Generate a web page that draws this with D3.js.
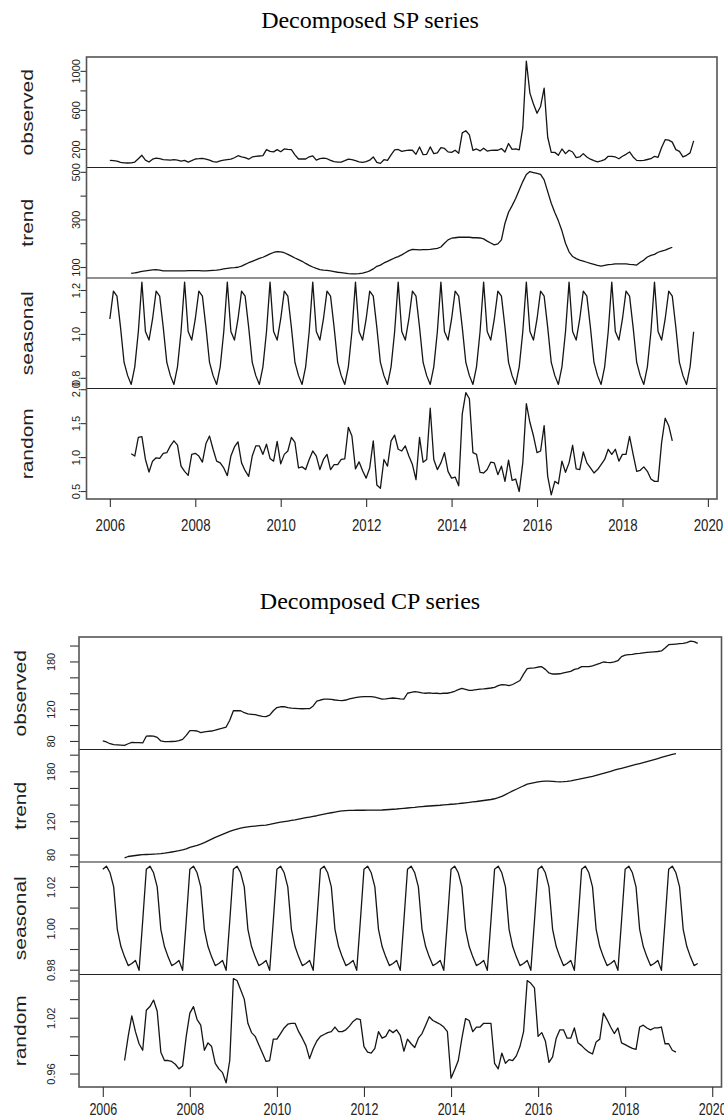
<!DOCTYPE html>
<html>
<head>
<meta charset="utf-8">
<script src="https://cdn.jsdelivr.net/npm/d3@7/dist/d3.min.js"></script>
<style>
  body { margin: 0; background: #fff; }
</style>
</head>
<body>
<div id="wrapper"></div>
<script>
/* global d3 */

// monthly series, Jan 2006 .. Sep 2019 (165 months)
const startYear = 2006
const trendOffset = 6 // trend and random start in Jul 2006 (12-month moving average)
const panelNames = ["observed", "trend", "seasonal", "random"]
const xTicks = [2006, 2008, 2010, 2012, 2014, 2016, 2018, 2020]

// ---- SP series ----
const spObserved = [
  83, 80, 76, 62, 57, 56, 58, 66, 100, 135, 85, 66,
  95, 107, 100, 90, 88, 86, 90, 85, 76, 83, 66, 80,
  97, 100, 104, 97, 85, 70, 66, 78, 85, 90, 95, 110,
  131, 120, 112, 95, 118, 125, 128, 131, 193, 175, 170, 193,
  172, 200, 195, 193, 140, 97, 97, 97, 120, 130, 85, 100,
  107, 100, 83, 70, 66, 66, 80, 95, 90, 80, 68, 62,
  70, 85, 118, 62, 52, 90, 83, 140, 190, 195, 175, 183,
  187, 187, 145, 221, 142, 145, 221, 152, 160, 214, 205, 170,
  165, 187, 155, 365, 387, 345, 185, 200, 180, 207, 178, 185,
  187, 187, 204, 169, 256, 195, 200, 190, 415, 1100, 772, 660,
  566, 635, 824, 320, 165, 165, 135, 200, 152, 187, 169, 111,
  118, 152, 118, 95, 80, 68, 78, 90, 125, 125, 118, 100,
  125, 145, 169, 118, 83, 80, 83, 92, 100, 125, 115, 215,
  295, 290, 270, 193, 176, 118, 135, 160, 283
]
const spTrend = [
  73, 75, 78, 82, 84, 86, 88, 89, 87, 84, 84, 84,
  84, 84, 84, 84, 85, 85, 85, 85, 84, 84, 85, 86,
  87, 89, 92, 94, 96, 97, 99, 104, 111, 118, 124, 130,
  136, 141, 148, 155, 161, 165, 164, 160, 153, 146, 138, 131,
  124, 115, 107, 100, 94, 89, 87, 86, 84, 81, 78, 76,
  74, 72, 71, 71, 72, 74, 78, 84, 92, 103, 108, 117,
  124, 131, 138, 144, 151, 160, 169, 174, 173, 172, 173, 173,
  174, 176, 178, 184, 200, 214, 221, 223, 225, 225, 225, 225,
  223, 223, 222, 218, 209, 201, 193, 197, 214, 284, 330, 358,
  388, 424, 459, 489, 501, 497, 493, 489, 466, 417, 368, 329,
  294, 252, 200, 164, 144, 135, 129, 125, 120, 115, 111, 107,
  104, 107, 110, 111, 113, 113, 113, 113, 111, 110, 108, 120,
  129, 142, 149, 153, 162, 167, 171, 177, 183
]
// seasonal factor by calendar month, Jan..Dec
const spSeasonal = [1.068, 1.195, 1.172, 1.03, 0.87, 0.81, 0.77, 0.85, 1.01, 1.236, 1.011, 0.972]
const spRandom = [
  1.05, 1.015, 1.29, 1.30, 0.965, 0.78, 0.94, 0.99, 0.98, 1.055, 1.065, 1.165,
  1.24, 1.175, 0.866, 0.79, 0.73, 1.04, 1.055, 1.015, 0.925, 1.2, 1.31, 1.115,
  0.94, 0.915, 0.84, 0.726, 1.015, 1.15, 1.224, 0.915, 0.8, 0.716, 1.015, 1.165,
  1.165, 1.04, 1.19, 0.98, 0.94, 1.23, 0.9, 1.04, 1.09, 1.29, 1.215, 0.84,
  0.856, 0.816, 0.965, 1.09, 1.015, 0.816, 0.965, 1.04, 0.816, 0.89, 0.89, 0.965,
  0.975, 1.438, 1.31, 0.826, 0.93, 0.80, 0.69, 0.84, 1.24, 0.59, 0.54, 0.965,
  0.866, 1.24, 1.324, 1.115, 1.09, 1.165, 1.015, 0.89, 0.667, 1.29, 0.925, 0.965,
  1.72, 0.965, 0.816, 0.915, 1.065, 0.79, 0.69, 0.706, 0.577, 1.637, 1.95, 1.86,
  1.065, 1.04, 0.776, 0.766, 0.816, 0.925, 0.915, 0.741, 0.866, 0.642, 0.955, 0.657,
  0.677, 0.493, 0.915, 1.786, 1.513, 1.314, 1.065, 1.09, 1.463, 0.716, 0.443, 0.642,
  0.607, 0.94, 0.776, 0.915, 1.174, 0.826, 0.816, 1.075, 0.915, 0.84, 0.766, 0.816,
  0.89, 0.965, 1.115, 1.04, 1.115, 0.94, 1.04, 1.04, 1.304, 1.04, 0.79, 0.806,
  0.856, 0.79, 0.677, 0.642, 0.642, 1.214, 1.572, 1.463, 1.24
]
const spTickValues = [[200, 400, 600, 800, 1000], [100, 200, 300, 400, 500], [0.8, 0.9, 1.0, 1.1, 1.2], [0.5, 1.0, 1.5, 2.0]]
const spTickLabels = [[200, 600, 1000], [100, 300, 500], [0.8, 1.0, 1.2], [0.5, 1.0, 1.5, 2.0]]
const spTickFormats = ["d", "d", ".1f", ".1f"]

// ---- CP series ----
const cpObserved = [
  80, 78.7, 76.5, 75.3, 75, 74.7, 74.5, 76.5, 78.2, 78, 77.8, 77.5,
  86, 86.5, 86.2, 84.5, 80, 79.2, 79.1, 79.3, 79.5, 80.3, 82, 87,
  92.9, 93, 92.5, 90.5, 91.5, 92, 92.5, 93.5, 95, 96, 97.5, 106,
  118, 118.2, 118, 115.5, 114, 113.5, 113, 112, 111, 110.5, 112.5, 118,
  122, 123, 123.1, 122, 121.4, 121, 120.6, 120.5, 120.6, 120.6, 124, 130,
  131.5, 132.5, 132.7, 132.2, 131.5, 131, 130.7, 131.5, 133, 134, 134.8, 135.5,
  135.7, 135.7, 135.7, 135, 134, 132.7, 133, 133.5, 134, 133.5, 133, 132.7,
  140, 141, 142, 141.5, 140.5, 140, 140.5, 139.8, 140, 139.5, 140, 140,
  141, 142.5, 144.5, 146.2, 145, 143.5, 143.8, 144.5, 145.3, 145.5, 146, 146.6,
  147.5, 149.5, 150.8, 150.5, 149.5, 151, 153.5, 156, 164, 171, 171.5, 172,
  173, 173.4, 170, 165.5, 164.2, 164.2, 164.5, 165.5, 166.5, 167.5, 170, 171,
  173.4, 173.5, 173.4, 174.5, 175.9, 177.5, 179.3, 178.8, 178.5, 179.5, 180.9, 186,
  188, 188.5, 189, 189.8, 190.2, 190.8, 191.3, 191.6, 192, 192.5, 193.2, 197,
  201.1, 201.5, 201.9, 202.3, 202.8, 203.8, 205.5, 205, 202.8
]
const cpTrend = [
  76.0, 77.6, 78.2, 78.8, 79.4, 79.8, 80.0, 80.2, 80.5, 80.7, 81.0, 81.6,
  82.3, 83.0, 83.8, 84.6, 85.6, 86.8, 88.5, 89.8, 91.0, 92.5, 94.2, 96.3,
  98.4, 100.5, 102.4, 104.2, 106.0, 107.8, 109.4, 110.6, 111.6, 112.6, 113.3, 113.8,
  114.2, 114.6, 115.0, 115.4, 116.2, 117.1, 118.0, 118.8, 119.5, 120.2, 120.9, 121.6,
  122.4, 123.3, 124.2, 125.0, 125.9, 126.6, 127.5, 128.4, 129.3, 130.2, 131.0, 131.8,
  132.4, 132.8, 133.0, 133.1, 133.2, 133.2, 133.2, 133.3, 133.3, 133.3, 133.4, 133.5,
  133.8, 134.1, 134.4, 134.7, 135.1, 135.5, 135.9, 136.3, 136.7, 137.2, 137.6, 138.0,
  138.3, 138.6, 138.9, 139.2, 139.6, 140.0, 140.4, 140.7, 141.1, 141.6, 142.1, 142.6,
  143.2, 143.7, 144.3, 144.9, 145.5, 146.1, 147.0, 148.3, 149.9, 152.0, 154.2, 156.4,
  158.4, 160.5, 162.6, 164.5, 165.5, 166.5, 167.4, 168.0, 168.2, 168.1, 167.8, 167.5,
  167.4, 167.6, 168.0, 168.6, 169.4, 170.2, 171.1, 172.1, 173.1, 174.0, 175.2, 176.4,
  177.6, 178.8, 180.0, 181.3, 182.5, 183.6, 184.8, 186.0, 187.2, 188.2, 189.3, 190.4,
  191.6, 192.8, 194.0, 195.3, 196.6, 197.8, 199.0, 200.3, 201.2
]
const cpSeasonal = [1.0285, 1.0300, 1.0268, 1.0200, 0.9995, 0.9912, 0.9862, 0.9820, 0.9830, 0.9845, 0.9797, 1.0035]
const cpRandom = [
  0.974, 1.000, 1.022, 1.005, 0.992, 0.985, 1.028, 1.032, 1.039, 1.027, 0.983, 0.974,
  0.974, 0.973, 0.970, 0.965, 0.968, 1.000, 1.025, 1.032, 1.018, 1.012, 0.985, 0.993,
  0.989, 0.971, 0.965, 0.961, 0.950, 0.974, 1.062, 1.060, 1.050, 1.040, 1.014, 1.004,
  1.000, 0.991, 0.982, 0.973, 0.974, 0.997, 0.997, 1.003, 1.009, 1.013, 1.014, 1.014,
  1.005, 0.998, 0.990, 0.976, 0.987, 0.995, 1.000, 1.002, 1.004, 1.005, 1.010, 1.005,
  1.005, 1.007, 1.011, 1.016, 1.019, 1.018, 0.989, 0.983, 0.982, 0.987, 1.005, 0.998,
  1.000, 1.007, 1.004, 1.007, 1.001, 0.984, 0.997, 0.992, 0.988, 0.998, 1.003, 1.012,
  1.021, 1.017, 1.015, 1.013, 1.010, 1.005, 0.955, 0.964, 0.974, 0.998, 1.019, 1.017,
  1.005, 1.010, 1.010, 1.014, 1.014, 1.014, 0.971, 0.965, 0.982, 0.971, 0.975, 0.974,
  0.979, 0.989, 1.005, 1.060, 1.057, 1.052, 1.000, 1.004, 0.995, 0.972, 0.978, 0.998,
  1.007, 1.007, 0.998, 0.998, 1.009, 0.993, 0.990, 0.986, 0.983, 0.981, 0.994, 0.997,
  1.025, 1.018, 1.010, 1.003, 1.009, 0.993, 0.991, 0.989, 0.987, 0.986, 1.010, 1.012,
  1.009, 1.007, 1.009, 1.009, 1.010, 0.992, 0.992, 0.985, 0.983
]
const cpTickValues = [[80, 100, 120, 140, 160, 180, 200], [80, 100, 120, 140, 160, 180, 200], [0.98, 0.99, 1.00, 1.01, 1.02, 1.03], [0.96, 0.98, 1.00, 1.02, 1.04, 1.06]]
const cpTickLabels = [[80, 120, 180], [80, 120, 180], [0.98, 1.00, 1.02], [0.96, 1.02]]
const cpTickFormats = ["d", "d", ".2f", ".2f"]

const width = 724
const height = 1119
const squeeze = 0.78 // the R graphics were squashed horizontally

const svg = d3.select("#wrapper")
  .append("svg")
    .attr("width", width)
    .attr("height", height)
    .style("display", "block")

const monthTime = i => startYear + i / 12

function buildPanels(observed, trend, seasonal, random) {
  const obs = observed.map((v, i) => ({ t: monthTime(i), v }))
  const tr = trend.map((v, i) => ({ t: monthTime(i + trendOffset), v }))
  const se = observed.map((d, i) => ({ t: monthTime(i), v: seasonal[i % 12] }))
  const rn = random.map((v, i) => ({ t: monthTime(i + trendOffset), v }))
  return [obs, tr, se, rn]
}

function drawDecomposition(panels, ticks, labels, formats, dims) {
  const g = svg.append("g")
  const panelH = (dims.bottom - dims.top) / 4

  // title
  g.append("text")
    .attr("x", dims.titleX)
    .attr("y", dims.titleY)
    .attr("text-anchor", "middle")
    .style("font-family", "'Liberation Serif', 'Times New Roman', serif")
    .style("font-size", "24px")
    .style("fill", "#000")
    .text(dims.title)

  // x scale like R: 4% extension of the time range
  const tExtent = d3.extent(panels[0], d => d.t)
  const tPad = (tExtent[1] - tExtent[0]) * 0.04
  const xScale = d3.scaleLinear()
    .domain([tExtent[0] - tPad, tExtent[1] + tPad])
    .range([dims.left, dims.right])

  panels.forEach((data, k) => {
    const y0 = dims.top + k * panelH
    const ext = d3.extent(data, d => d.v)
    const pad = (ext[1] - ext[0]) * 0.04
    const yScale = d3.scaleLinear()
      .domain([ext[0] - pad, ext[1] + pad])
      .range([y0 + panelH, y0])

    const fmt = d3.format(formats[k])
    const axis = d3.axisLeft(yScale)
      .tickValues(ticks[k])
      .tickSize(dims.tickLen)
      .tickFormat(d => labels[k].some(l => Math.abs(l - d) < 1e-9) ? fmt(d) : "")

    const ax = g.append("g")
      .attr("transform", `translate(${dims.left},0)`)
      .call(axis)
    ax.select(".domain").remove()
    ax.selectAll(".tick line").attr("stroke", "#333").attr("stroke-width", 1.1)
    ax.selectAll(".tick text")
      .attr("x", null)
      .attr("dy", null)
      .attr("y", 0)
      .attr("text-anchor", "middle")
      .attr("transform", `translate(${-dims.tickLabelOff},0) rotate(-90)`)
      .style("font-family", "'Liberation Sans', Arial, sans-serif")
      .style("font-size", dims.tickFont + "px")
      .style("fill", "#222")

    // panel name
    g.append("text")
      .attr("transform", `translate(${dims.nameX},${y0 + panelH / 2}) scale(${squeeze},1) rotate(-90)`)
      .attr("text-anchor", "middle")
      .style("font-family", "'Liberation Sans', Arial, sans-serif")
      .style("font-size", "21px")
      .style("fill", "#222")
      .text(panelNames[k])

    const line = d3.line()
      .x(d => xScale(d.t))
      .y(d => yScale(d.v))

    g.append("path")
      .datum(data)
      .attr("fill", "none")
      .attr("stroke", "#151515")
      .attr("stroke-width", 1.3)
      .attr("stroke-linejoin", "round")
      .attr("d", line)

    // separator between panels
    if (k > 0) {
      g.append("line")
        .attr("x1", dims.left)
        .attr("x2", dims.right)
        .attr("y1", y0)
        .attr("y2", y0)
        .attr("stroke", "#222")
        .attr("stroke-width", 1.2)
    }
  })

  // outer frame
  g.append("rect")
    .attr("x", dims.left)
    .attr("y", dims.top)
    .attr("width", dims.right - dims.left)
    .attr("height", dims.bottom - dims.top)
    .attr("fill", "none")
    .attr("stroke", "#555")
    .attr("stroke-width", 1.6)

  // time axis
  const xAxis = d3.axisBottom(xScale)
    .tickValues(xTicks)
    .tickSize(dims.xTickLen)
    .tickFormat(d3.format("d"))
  const xa = g.append("g")
    .attr("transform", `translate(0,${dims.bottom})`)
    .call(xAxis)
  xa.select(".domain").remove()
  xa.selectAll(".tick line").attr("stroke", "#333").attr("stroke-width", 1.1)
  xa.selectAll(".tick text")
    .attr("y", dims.xLabelY - dims.bottom)
    .attr("dy", null)
    .attr("transform", `scale(${squeeze},1)`)
    .style("font-family", "'Liberation Sans', Arial, sans-serif")
    .style("font-size", dims.xFont + "px")
    .style("fill", "#222")
}

drawDecomposition(
  buildPanels(spObserved, spTrend, spSeasonal, spRandom),
  spTickValues, spTickLabels, spTickFormats,
  {
    title: "Decomposed SP series", titleX: 370, titleY: 28,
    left: 86.5, right: 717, top: 57, bottom: 499,
    tickLen: 6, tickLabelOff: 7, tickFont: 11, nameX: 33,
    xTickLen: 8, xLabelY: 531, xFont: 17
  }
)

drawDecomposition(
  buildPanels(cpObserved, cpTrend, cpSeasonal, cpRandom),
  cpTickValues, cpTickLabels, cpTickFormats,
  {
    title: "Decomposed CP series", titleX: 370, titleY: 609,
    left: 79, right: 721.5, top: 637, bottom: 1087,
    tickLen: 9, tickLabelOff: 24, tickFont: 11, nameX: 25.5,
    xTickLen: 10, xLabelY: 1115, xFont: 16
  }
)
</script>
</body>
</html>
